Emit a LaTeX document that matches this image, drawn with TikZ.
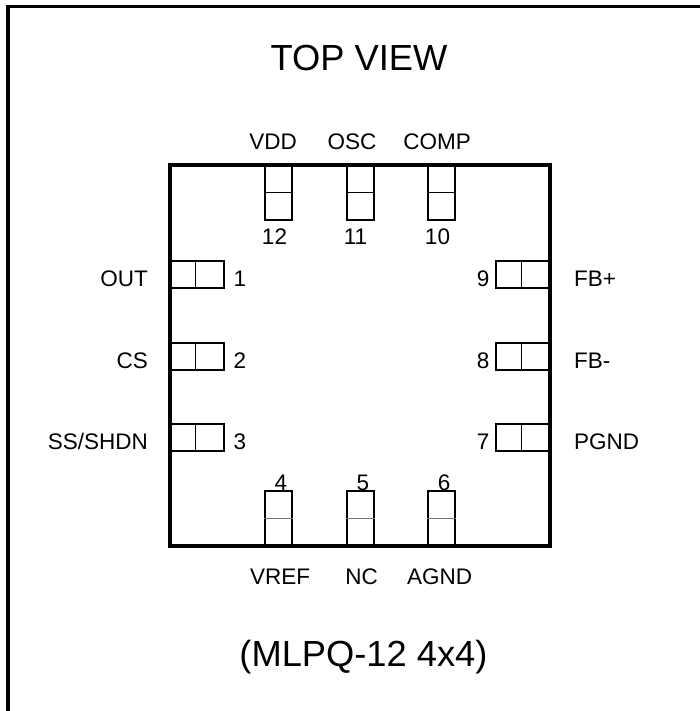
\documentclass[tikz,border=0pt]{standalone}
\usepackage{fontspec}
\setmainfont{Liberation Sans}
\tikzset{
  pad/.style={rectangle,draw=black,line width=2pt,minimum width=#1,inner sep=0pt},
  pinlabel/.style={font=\fontsize{22.5}{24}\selectfont,inner sep=0pt},
  bigtitle/.style={font=\fontsize{36.3}{38}\selectfont,inner sep=0pt}
}
\begin{document}
\begin{tikzpicture}[x=1pt,y=-1pt]
\useasboundingbox (0,0) rectangle (700,711);
\coordinate (FT) at (700,6.5);
\coordinate (FC) at (8,6.5);
\coordinate (FB) at (8,711);
\draw[line width=3.5pt] (FT) -- (FC) -- (FB);
\node[bigtitle] (Top) at (359,58) {TOP VIEW};
\node[bigtitle] (Pkg) at (363.5,657) {(MLPQ-12 4x4)};
\node[rectangle,draw=black,line width=4pt,minimum width=380pt,minimum height=381pt,inner sep=0pt] (Chip) at (360,355.5) {};
% top row
\foreach \n/\x/\nx/\t/\tx in {12/278.5/274.5/VDD/273,11/360/355.5/OSC/352,10/441/437.5/COMP/437}{
  \node[pad=27pt,minimum height=55pt] (P\n) at (\x,192.5) {};
  \draw[line width=0.7pt] (P\n.west) -- (P\n.east);
  \node[pinlabel] (N\n) at (\nx,237) {\n};
  \node[pinlabel] (L\n) at (\tx,142) {\t};
}
% bottom row
\foreach \n/\x/\nx/\t/\tx in {4/278.5/281/VREF/280,5/360/363/NC/361.5,6/441.5/444/AGND/439.5}{
  \node[pad=27pt,minimum height=55pt] (P\n) at (\x,518.5) {};
  \draw[line width=0.8pt,black!55] (P\n.west) -- (P\n.east);
  \node[pinlabel] (N\n) at (\nx,482.5) {\n};
  \node[pinlabel] (L\n) at (\tx,577) {\t};
}
% left row
\foreach \n/\y/\ty/\t in {1/274/278.5/OUT,2/356/360.5/CS,3/437.5/441.5/{SS/SHDN}}{
  \node[pad=54pt,minimum height=27pt] (P\n) at (197,\y) {};
  \draw[line width=0.7pt] ([xshift=-2pt]P\n.north) -- ([xshift=-2pt]P\n.south);
  \node[pinlabel] (N\n) at (240,\ty) {\n};
  \node[pinlabel,anchor=east] (L\n) at (148,\ty) {\t};
}
% right row
\foreach \n/\y/\ty/\t in {9/274/278.5/FB+,8/356/360.5/FB-,7/437.5/441.5/PGND}{
  \node[pad=54pt,minimum height=27pt] (P\n) at (523,\y) {};
  \draw[line width=0.7pt] ([xshift=-2pt]P\n.north) -- ([xshift=-2pt]P\n.south);
  \node[pinlabel] (N\n) at (483,\ty) {\n};
  \node[pinlabel,anchor=west] (L\n) at (574,\ty) {\t};
}
\end{tikzpicture}
\end{document}
